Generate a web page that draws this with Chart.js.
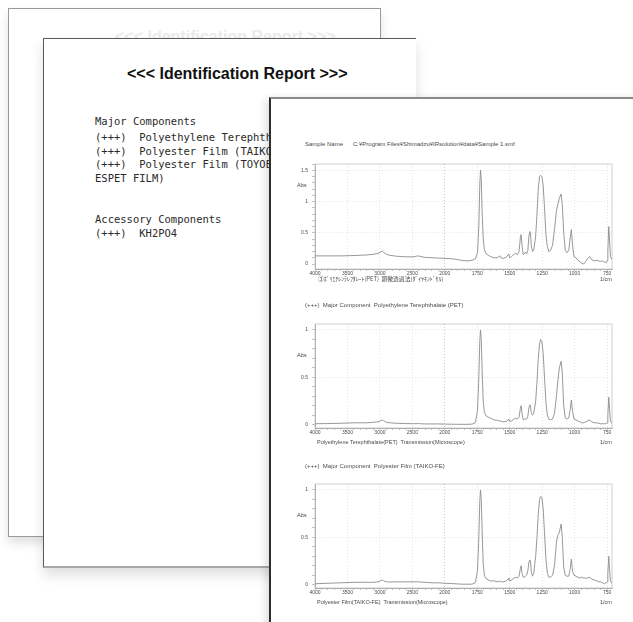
<!DOCTYPE html>
<html>
<head>
<meta charset="utf-8">
<script src="https://cdn.jsdelivr.net/npm/chart.js@4.4.1/dist/chart.umd.min.js"></script>
<style>
  body { margin: 0; width: 633px; height: 622px; overflow: hidden; position: relative; background: #fff; font-family: "Liberation Sans", Arial, sans-serif; }
  .paper { position: absolute; background: #fff; box-sizing: border-box; }
  #back { left: 8px; top: 8px; width: 373px; height: 529px; border: 1px solid #9a9a9a; box-shadow: 0 6px 10px rgba(0,0,0,0.12); }
  #middle { left: 43px; top: 38px; width: 373px; height: 530px; border-left: 1px solid #5a5a5a; border-top: 1px solid #5a5a5a; border-bottom: 2px solid #a8a8a8; box-shadow: 0 7px 12px rgba(0,0,0,0.13); }
  #front { left: 269px; top: 97px; width: 400px; height: 560px; border-left: 2px solid #2e2e2e; border-top: 2px solid #8a8a8a; box-shadow: -3px 2px 8px rgba(0,0,0,0.14); }
  .t { position: absolute; white-space: pre; line-height: 1; }
  .title { font-weight: bold; font-size: 16px; color: #111; }
  .mono { font-family: "DejaVu Sans Mono", monospace; font-size: 10.5px; color: #2a2a2a; transform: scaleY(1.08); transform-origin: left top; }
  .small { font-size: 5.5px; color: #4a4a4a; line-height: 6px; }
  .head { font-size: 6px; }
  canvas { position: absolute; }
</style>
</head>
<body>
<div class="paper" id="back"></div>
<div class="t title" style="left:115px; top:29px; color:#ebebeb;">&lt;&lt;&lt; Identification Report &gt;&gt;&gt;</div>
<div class="paper" id="middle"></div>
<div class="t title" style="left:127px; top:66px;">&lt;&lt;&lt; Identification Report &gt;&gt;&gt;</div>
<div class="t mono" style="left:95px; top:115px;">Major Components</div>
<div class="t mono" style="left:95px; top:131px;">(+++)  Polyethylene Terephthalate (PET)</div>
<div class="t mono" style="left:95px; top:145px;">(+++)  Polyester Film (TAIKO-FE)</div>
<div class="t mono" style="left:95px; top:158px;">(+++)  Polyester Film (TOYOBO</div>
<div class="t mono" style="left:95px; top:172px;">ESPET FILM)</div>
<div class="t mono" style="left:95px; top:213px;">Accessory Components</div>
<div class="t mono" style="left:95px; top:227px;">(+++)  KH2PO4</div>
<div class="paper" id="front"></div>

<div class="t small head" style="left:305px; top:141px;">Sample Name      C:¥Program Files¥Shimadzu¥IRsolution¥data¥Sample 1.smf</div>
<div class="t small" style="left:297px; top:182px;">Abs</div>
<canvas id="chartSample" width="340" height="130" style="left:285px; top:156px;"></canvas>
<div class="t small" style="left:318px; top:276px; font-size:5.8px; font-family:'Noto Sans CJK JP', sans-serif;">③ﾎﾟﾘｴﾁﾚﾝﾃﾚﾌﾀﾚｰﾄ(PET)  顕微透過法(ﾀﾞｲﾔﾓﾝﾄﾞｾﾙ)</div>
<div class="t small" style="left:600px; top:276px;">1/cm</div>

<div class="t small head" style="left:305px; top:302px;">(+++)  Major Component  Polyethylene Terephthalate (PET)</div>
<div class="t small" style="left:297px; top:352px;">Abs</div>
<canvas id="chartPet" width="340" height="130" style="left:285px; top:316px;"></canvas>
<div class="t small" style="left:317px; top:439px;">Polyethylene Terephthalate(PET)  Transmission(Microscope)</div>
<div class="t small" style="left:600px; top:439px;">1/cm</div>

<div class="t small head" style="left:305px; top:463px;">(+++)  Major Component  Polyester Film (TAIKO-FE)</div>
<div class="t small" style="left:297px; top:512px;">Abs</div>
<canvas id="chartTaiko" width="340" height="130" style="left:285px; top:476px;"></canvas>
<div class="t small" style="left:317px; top:599px;">Polyester Film(TAIKO-FE)  Transmission(Microscope)</div>
<div class="t small" style="left:600px; top:599px;">1/cm</div>

<script>
// Numeros de onda (1/cm) comunes a los tres espectros
const waveNumbers = [
  4000, 3800, 3600, 3400, 3200, 3100, 3030, 2990, 2965, 2940,
  2900, 2850, 2750, 2600, 2480, 2420, 2370, 2300, 2200, 2100,
  2000, 1950, 1900, 1860, 1820, 1790, 1765, 1748, 1738, 1730,
  1725, 1719, 1712, 1704, 1695, 1680, 1650, 1620, 1595, 1583,
  1576, 1568, 1550, 1525, 1512, 1507, 1500, 1485, 1465, 1451,
  1440, 1428, 1418, 1412, 1405, 1396, 1385, 1379, 1370, 1360,
  1352, 1345, 1340, 1334, 1325, 1315, 1300, 1290, 1280, 1270,
  1262, 1252, 1242, 1232, 1220, 1210, 1199, 1185, 1170, 1155,
  1140, 1130, 1118, 1104, 1095, 1084, 1072, 1060, 1045, 1035,
  1025, 1016, 1005, 990, 975, 960, 945, 930, 915, 900,
  883, 870, 850, 830, 815, 801, 785, 770, 758, 750,
  744, 737, 730, 724, 716, 710
];

// Absorbancia de la muestra (Sample 1)
const sampleAbs = [
  0.13, 0.13, 0.13, 0.135, 0.145, 0.155, 0.17, 0.19, 0.21, 0.185,
  0.155, 0.14, 0.125, 0.115, 0.115, 0.13, 0.12, 0.105, 0.1, 0.095,
  0.09, 0.085, 0.07, 0.055, 0.05, 0.06, 0.08, 0.18, 0.6, 1.3,
  1.5, 1.35, 0.8, 0.4, 0.22, 0.16, 0.12, 0.1, 0.1, 0.12,
  0.13, 0.1, 0.09, 0.11, 0.15, 0.16, 0.1, 0.12, 0.16, 0.17,
  0.15, 0.2, 0.42, 0.47, 0.3, 0.15, 0.17, 0.19, 0.16, 0.22,
  0.45, 0.52, 0.5, 0.3, 0.2, 0.22, 0.45, 0.8, 1.2, 1.4,
  1.42, 1.4, 1.25, 0.9, 0.45, 0.28, 0.2, 0.22, 0.3, 0.55,
  0.85, 0.95, 1.05, 1.12, 0.95, 0.5, 0.22, 0.18, 0.22, 0.4,
  0.55, 0.3, 0.12, 0.1, 0.06, 0.04, 0.01, 0.0, 0.04, 0.09,
  0.12, 0.07, 0.05, 0.06, 0.05, 0.04, 0.05, 0.03, 0.02, 0.05,
  0.2, 0.6, 0.35, 0.12, 0.08, 0.07
];

// Referencia: Polyethylene Terephthalate (PET)
const petAbs = [
  0.01, 0.012, 0.015, 0.02, 0.02, 0.025, 0.03, 0.04, 0.05, 0.04,
  0.025, 0.02, 0.015, 0.012, 0.01, 0.012, 0.01, 0.008, 0.008, 0.008,
  0.006, 0.005, 0.004, 0.004, 0.004, 0.006, 0.02, 0.15, 0.5, 0.9,
  1.0, 0.9, 0.55, 0.25, 0.13, 0.09, 0.07, 0.05, 0.045, 0.04,
  0.045, 0.035, 0.03, 0.035, 0.05, 0.06, 0.035, 0.04, 0.06, 0.07,
  0.06, 0.08, 0.17, 0.2, 0.12, 0.05, 0.06, 0.06, 0.06, 0.09,
  0.18, 0.21, 0.2, 0.13, 0.1, 0.12, 0.25, 0.45, 0.7, 0.85,
  0.9, 0.88, 0.75, 0.5, 0.22, 0.1, 0.06, 0.05, 0.06, 0.12,
  0.3, 0.45, 0.6, 0.67, 0.55, 0.2, 0.07, 0.06, 0.07, 0.15,
  0.26, 0.14, 0.06, 0.05, 0.04, 0.03, 0.02, 0.02, 0.03, 0.04,
  0.05, 0.03, 0.02, 0.02, 0.015, 0.01, 0.01, 0.01, 0.01, 0.02,
  0.1, 0.29, 0.15, 0.04, 0.02, 0.02
];

// Referencia: Polyester Film (TAIKO-FE)
const taikoAbs = [
  0.01, 0.015, 0.02, 0.025, 0.025, 0.025, 0.03, 0.04, 0.05, 0.04,
  0.03, 0.028, 0.03, 0.03, 0.03, 0.03, 0.028, 0.025, 0.02, 0.02,
  0.015, 0.012, 0.008, 0.005, 0.005, 0.006, 0.02, 0.15, 0.5, 0.9,
  1.0, 0.9, 0.55, 0.22, 0.1, 0.06, 0.04, 0.04, 0.03, 0.035,
  0.04, 0.03, 0.03, 0.04, 0.06, 0.07, 0.04, 0.05, 0.07, 0.08,
  0.07, 0.09, 0.17, 0.2, 0.12, 0.08, 0.08, 0.09, 0.1, 0.15,
  0.24, 0.26, 0.25, 0.14, 0.09, 0.12, 0.3, 0.5, 0.75, 0.9,
  0.93, 0.92, 0.8, 0.55, 0.25, 0.12, 0.08, 0.08, 0.1, 0.2,
  0.45, 0.52, 0.55, 0.64, 0.5, 0.18, 0.1, 0.09, 0.09, 0.16,
  0.27, 0.14, 0.1, 0.09, 0.08, 0.07, 0.08, 0.07, 0.07, 0.07,
  0.08, 0.06, 0.05, 0.04, 0.03, 0.03, 0.02, 0.01, 0.02, 0.03,
  0.12, 0.3, 0.15, 0.04, 0.02, 0.02
];

// Etiquetas de los ejes
const xTickLabels = [4000, 3500, 3000, 2500, 2000, 1750, 1500, 1250, 1000, 750];
const yTicksSample = [0, 0.5, 1, 1.5];
const yTicksRef = [0, 0.5, 1];

// Eje de numero de onda: por encima de 2000 la escala va a la mitad
const LinearScale = Chart.LinearScale || Chart.registry.getScale('linear');
const fold = v => (v > 2000 ? 2000 + (v - 2000) / 2 : v);
const unfold = f => (f > 2000 ? 2000 + (f - 2000) * 2 : f);

class WaveScale extends LinearScale {
  getPixelForValue(value) {
    if (value === null || value === undefined) return NaN;
    const a = fold(this.min);
    const b = fold(this.max);
    return this.getPixelForDecimal((fold(value) - a) / (b - a));
  }
  getValueForPixel(pixel) {
    const a = fold(this.min);
    const b = fold(this.max);
    return unfold(a + this.getDecimalForPixel(pixel) * (b - a));
  }
}
WaveScale.id = 'wave';
WaveScale.defaults = LinearScale.defaults;
Chart.register(WaveScale);

// Marco gris alrededor del area del grafico
const marcoPlugin = {
  id: 'marco',
  beforeDatasetsDraw(chart) {
    const a = chart.chartArea;
    const ctx = chart.ctx;
    ctx.save();
    ctx.strokeStyle = '#c4c4c4';
    ctx.lineWidth = 0.8;
    ctx.strokeRect(a.left, a.top, a.right - a.left, a.bottom - a.top);
    ctx.restore();
  }
};

function xTickValues() {
  const vals = [];
  for (let v = 4000; v > 2000; v -= 100) vals.push(v);
  for (let v = 2000; v >= 750; v -= 50) vals.push(v);
  return vals;
}

function yTickValues(max) {
  const vals = [];
  for (let i = 0; i / 10 <= max + 1e-9; i++) vals.push(i / 10);
  return vals;
}

function generarEspectro(canvasId, absValues, yMin, yMax, yLabels) {
  const ctx = document.getElementById(canvasId).getContext('2d');
  const esMayor = v => yLabels.some(l => Math.abs(l - v) < 1e-6);

  return new Chart(ctx, {
    type: 'line',
    data: {
      datasets: [{
        data: waveNumbers.map((w, i) => ({ x: w, y: absValues[i] })),
        borderColor: '#8c8c8c',
        borderWidth: 0.9,
        pointRadius: 0,
        tension: 0,
        fill: false
      }]
    },
    options: {
      responsive: false,
      animation: false,
      layout: { padding: { top: 8, right: 13, left: 0, bottom: 0 } },
      plugins: { legend: { display: false }, tooltip: { enabled: false } },
      scales: {
        x: {
          type: 'wave',
          min: 712,
          max: 4000,
          reverse: true,
          bounds: 'data',
          afterBuildTicks: scale => { scale.ticks = xTickValues().map(v => ({ value: v })); },
          afterFit: scale => { scale.height = canvasId === 'chartSample' ? 17 : 18; },
          ticks: {
            autoSkip: false,
            maxRotation: 0,
            padding: 0,
            color: '#4a4a4a',
            font: { family: 'Liberation Sans', size: 5 },
            callback: v => (xTickLabels.includes(v) ? String(v) : '')
          },
          grid: {
            color: c => (c.tick && xTickLabels.includes(c.tick.value) ? (c.tick.value === 2000 ? '#b0b0b0' : '#dadada') : 'rgba(0,0,0,0)'),
            lineWidth: 0.7,
            tickLength: 2,
            tickColor: '#999',
            tickWidth: 0.6
          },
          border: { display: true, color: '#8a8a8a', width: 0.8, dash: [1, 2] }
        },
        y: {
          min: yMin,
          max: yMax,
          afterBuildTicks: scale => { scale.ticks = yTickValues(yMax).map(v => ({ value: v })); },
          afterFit: scale => { scale.width = 30; },
          ticks: {
            autoSkip: false,
            padding: 4,
            color: '#4a4a4a',
            font: { family: 'Liberation Sans', size: 5 },
            callback: v => (esMayor(v) ? String(v) : '')
          },
          grid: {
            color: c => (c.tick && esMayor(c.tick.value) && c.tick.value !== 0 ? '#dadada' : 'rgba(0,0,0,0)'),
            lineWidth: 0.7,
            tickLength: 3,
            tickColor: '#999',
            tickWidth: 0.6
          },
          border: { display: true, color: '#9a9a9a', width: 0.8, dash: [1, 2] }
        }
      }
    },
    plugins: [marcoPlugin]
  });
}

generarEspectro('chartSample', sampleAbs, -0.08, 1.6, yTicksSample);
generarEspectro('chartPet', petAbs, -0.035, 1.063, yTicksRef);
generarEspectro('chartTaiko', taikoAbs, -0.035, 1.063, yTicksRef);
</script>
</body>
</html>
